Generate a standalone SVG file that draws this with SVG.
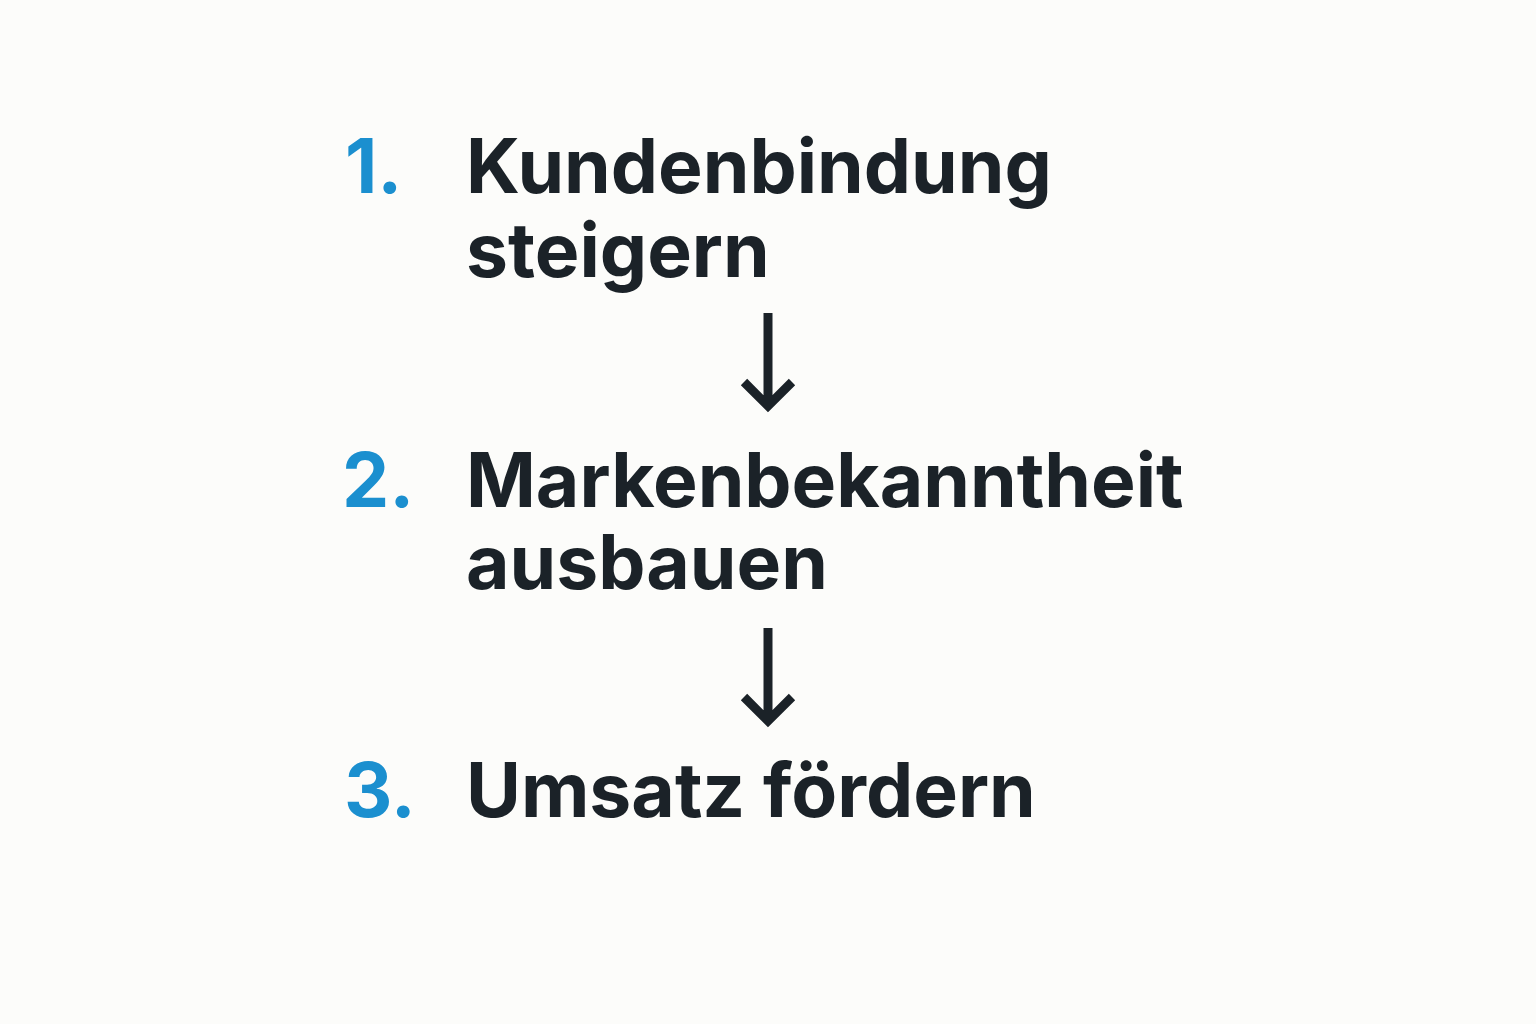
<svg xmlns="http://www.w3.org/2000/svg" width="1536" height="1024" viewBox="0 0 1536 1024">
<style>
.num{font-family:Inter,"Liberation Sans",sans-serif;font-weight:700;font-size:75px;fill:#1b8fcf}
.lbl{font-family:Inter,"Liberation Sans",sans-serif;font-weight:700;font-size:75px;fill:#1b2228}
.arr{stroke:#1b2228;stroke-width:9;fill:none;stroke-linecap:butt}
</style>
<rect width="1536" height="1024" fill="#fcfcfa"/>
<g id="step1">
<text class="num" x="345" y="193">1.</text>
<text class="lbl" x="466" y="193">Kundenbindung</text>
<text class="lbl" x="466" y="277">steigern</text>
</g>
<g id="step2">
<text class="num" x="342" y="507">2.</text>
<text class="lbl" x="466" y="507">Markenbekanntheit</text>
<text class="lbl" x="466" y="589">ausbauen</text>
</g>
<g id="step3">
<text class="num" x="344" y="817">3.</text>
<text class="lbl" x="466" y="817">Umsatz fördern</text>
</g>
<g id="connectors">
<path class="arr" d="M768 313 V406 M744 382 L768 406 L792 382"/>
<path class="arr" d="M768 628 V721 M744 697 L768 721 L792 697"/>
</g>
</svg>
